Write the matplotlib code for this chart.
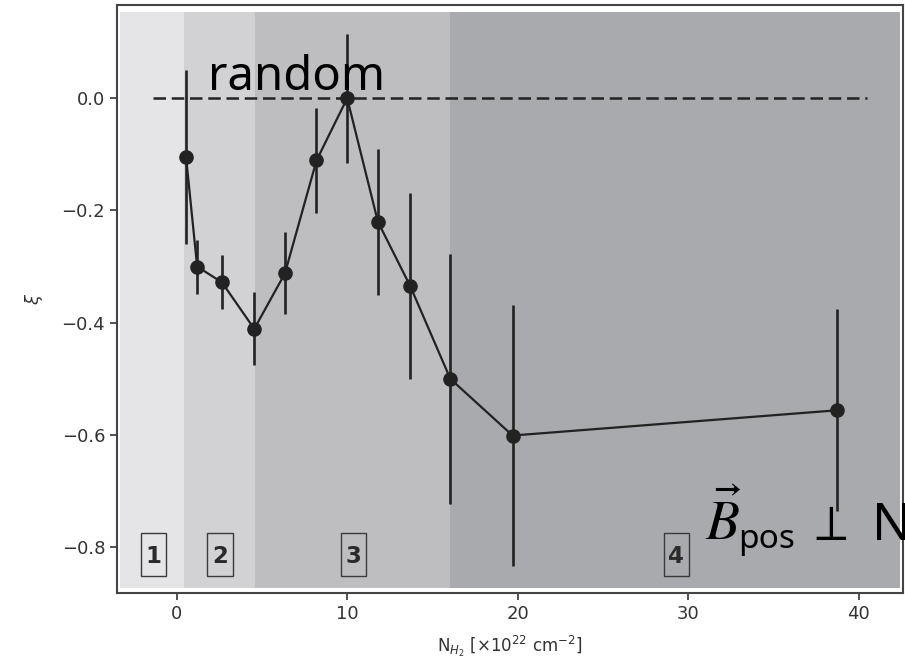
import matplotlib
matplotlib.use("Agg")
import matplotlib.pyplot as plt
from matplotlib.patches import Rectangle

# Data
nh2 = [0.55, 1.2, 2.65, 4.55, 6.35, 8.2, 10.0, 11.8, 13.7, 16.05, 19.7, 38.75]
xi = [-0.105, -0.300, -0.328, -0.411, -0.312, -0.111, 0.0, -0.220, -0.335, -0.500, -0.601, -0.556]
xi_err = [0.155, 0.048, 0.048, 0.065, 0.073, 0.093, 0.115, 0.13, 0.166, 0.223, 0.233, 0.18]
region_edges = [-3.3, 0.45, 4.6, 16.05, 42.4]
region_colors = ["#e5e5e7", "#d2d2d5", "#bebec1", "#a9aaad"]
region_labels = ["1", "2", "3", "4"]
region_label_x = [-1.37, 2.54, 10.36, 29.3]

fig = plt.figure(figsize=(9.05, 6.70), dpi=100)
ax = fig.add_axes([0.1293, 0.1149, 0.8685, 0.8776])
ax.set_xlim(-3.5, 42.6)
ax.set_ylim(-0.8816, 0.166)

box_w, box_h, box_yc = 1.47, 0.0766, -0.813
for i in range(4):
    ax.axvspan(region_edges[i], region_edges[i + 1], ymin=0.009, ymax=0.988,
               color=region_colors[i], lw=0, zorder=0)
    ax.text(region_label_x[i], -0.817, region_labels[i], ha="center", va="center",
            fontsize=16.5, fontweight="bold", color="#2a2a2a", zorder=4)
    ax.add_patch(Rectangle((region_label_x[i] - box_w / 2, box_yc - box_h / 2),
                           box_w, box_h, fc="none", ec="#3a3a3a", lw=1.0, zorder=4))

ax.plot([-1.4, 40.5], [0, 0], color="#222222", lw=1.8, ls=(0, (5, 2.3)), zorder=2)

ax.errorbar(nh2, xi, yerr=xi_err, color="#222222", lw=1.6, elinewidth=1.9,
            marker="o", markersize=9.5, capsize=0, zorder=3)

sans = ["Noto Sans", "DejaVu Sans"]
ax.text(1.85, 0.014, "random", fontsize=34, family=sans,
        ha="left", va="baseline", color="black", zorder=5)
ax.text(31.0, -0.787, r"$\vec{B}$", fontsize=40, math_fontfamily="stix",
        ha="left", va="baseline", color="black", zorder=5, clip_on=False)
ax.text(32.95, -0.801, "pos", fontsize=24, family=sans,
        ha="left", va="baseline", color="black", zorder=5, clip_on=False)
ax.text(36.9, -0.787, r"$\perp$", fontsize=36, math_fontfamily="stix",
        ha="left", va="baseline", color="black", zorder=5, clip_on=False)
ax.text(40.8, -0.787, "N", fontsize=37, family=sans,
        ha="left", va="baseline", color="black", zorder=5, clip_on=False)

ax.set_xticks([0, 10, 20, 30, 40])
ax.set_yticks([0.0, -0.2, -0.4, -0.6, -0.8])
ax.set_yticklabels(["0.0", "−0.2", "−0.4", "−0.6", "−0.8"])
ax.tick_params(labelsize=13, colors="#333333", length=5, width=1.2)
for s in ax.spines.values():
    s.set_color("#444444")
    s.set_linewidth(1.5)

ax.set_xlabel(r"N$_{H_2}$ [×10$^{22}$ cm$^{-2}$]", fontsize=12, color="#333333", labelpad=8)
ax.set_ylabel(r"$\xi$", fontsize=13, color="#333333", labelpad=12)

fig.savefig("out.png", dpi=100)
